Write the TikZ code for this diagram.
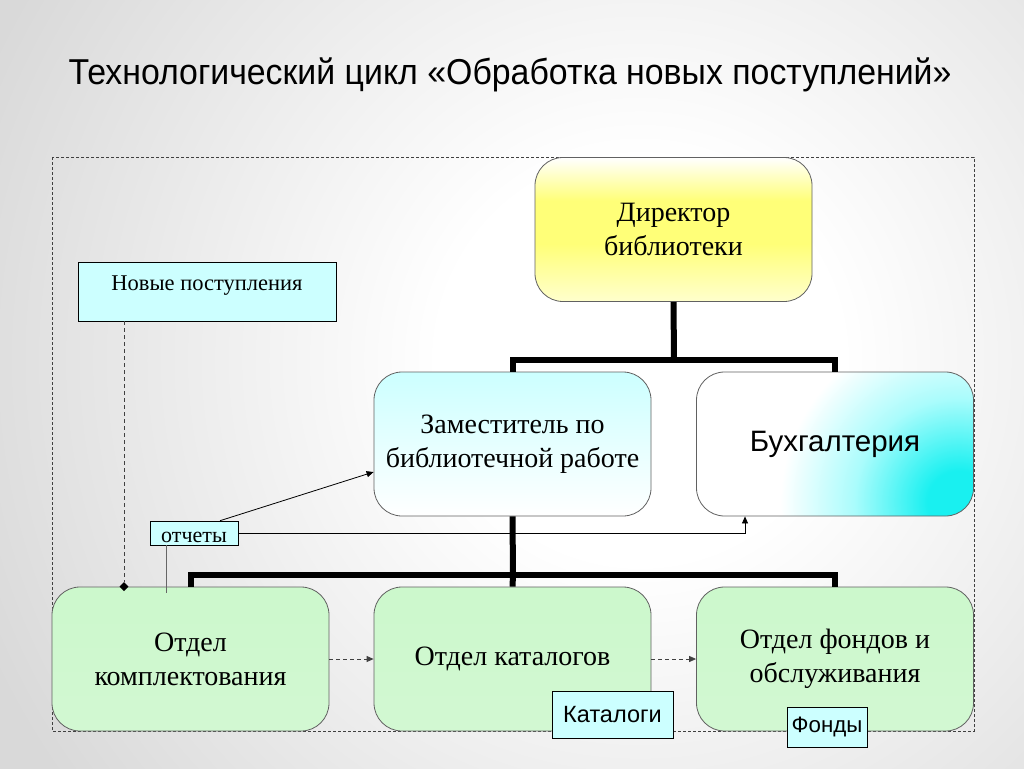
\documentclass[tikz,border=0pt]{standalone}
\usepackage{fontspec}
\setmainfont{Liberation Serif}
\newfontfamily\arialf{Liberation Sans}
\newfontfamily\arialn[FakeStretch=0.94]{Liberation Sans}
\usetikzlibrary{arrows.meta,shapes.geometric}
\definecolor{bggray}{gray}{0.85}
\definecolor{boxline}{gray}{0.38}
\definecolor{lcyan}{RGB}{204,255,255}
\definecolor{gtop}{RGB}{204,248,204}
\definecolor{gmid}{RGB}{244,255,244}
\definecolor{gbot}{RGB}{210,248,210}
\definecolor{ymid}{RGB}{255,255,120}
\definecolor{ybot}{RGB}{255,255,205}
\definecolor{cdeep}{RGB}{25,240,240}
\definecolor{cpale}{RGB}{170,252,252}
\pgfdeclareradialshading{bgshade}{\pgfpoint{0bp}{0bp}}{color(0bp)=(white); color(7bp)=(white); color(25bp)=(bggray); color(50bp)=(bggray)}
\pgfdeclareradialshading{buhrad}{\pgfpoint{0bp}{0bp}}{color(0bp)=(cdeep); color(3bp)=(cdeep); color(10bp)=(cpale); color(17bp)=(white); color(50bp)=(white)}
\pgfdeclareverticalshading{dirshade}{100bp}{color(0bp)=(ybot); color(25bp)=(ybot); color(45bp)=(ymid); color(60bp)=(ymid); color(75bp)=(white); color(100bp)=(white)}
\tikzset{
  orgbox/.style={draw=boxline, line width=0.8pt, rounded corners=28pt,
    minimum width=277pt, minimum height=144pt, align=center, inner sep=0pt,
    font=\fontsize{28}{34}\selectfont},
  greenbox/.style={orgbox, top color=gtop, middle color=gmid, bottom color=gbot},
  tagbox/.style={draw=black, line width=0.6pt, fill=lcyan, inner sep=0pt},
  tree/.style={line width=6pt, black},
  conn/.style={line width=0.8pt, black},
  tip/.style={-{Triangle[length=7pt,width=6pt]}},
  dashconn/.style={line width=0.8pt, black!75, dash pattern=on 4pt off 3pt},
  frame/.style={line width=0.8pt, black!75, dash pattern=on 3pt off 2pt}
}
\begin{document}
\begin{tikzpicture}[x=1pt,y=-1pt]
\useasboundingbox (0,0) rectangle (1024,768);
\begin{scope}
\clip (0,0) rectangle (1024,768);
\fill[shading=bgshade] (-80,-360) rectangle (1360,1080);
\end{scope}

\node[font=\arialn\fontsize{36}{40}\selectfont, anchor=base] (title) at (510,84) {Технологический цикл «Обработка новых поступлений»};

\draw[frame] (52,157) rectangle (974,731);

\node[orgbox, shading=dirshade] (dir) at (673.5,229.5) {Директор\\библиотеки};
\node[orgbox, top color=lcyan, bottom color=white] (zam) at (512.5,444) {Заместитель по\\библиотечной работе};
\node[orgbox, fill=white, path picture={\fill[shading=buhrad] ([xshift=-12pt,yshift=14pt]path picture bounding box.south east) circle[radius=260pt];}, font=\arialf\fontsize{29.5}{34}\selectfont] (buh) at (835,444) {Бухгалтерия};
\node[greenbox] (kompl) at (190.5,659) {Отдел\\комплектования};
\node[greenbox] (kat) at (512.5,659) {Отдел каталогов};
\node[greenbox] (fond) at (835,659) {Отдел фондов и\\обслуживания};

\coordinate (j1) at (674,360);
\coordinate (j2) at (513,575);
\draw[tree] (dir.south) -- (j1);
\draw[tree] (zam.north) |- (j1) -| (buh.north);
\draw[tree] (zam.south) -- (j2);
\draw[tree] (kompl.north) |- (j2) -| (fond.north);
\draw[tree] (j2) -- (kat.north);

\node[tagbox, minimum width=258pt, minimum height=59pt, text height=20.5pt, text depth=23.5pt, inner sep=7.5pt, font=\fontsize{22.5}{26}\selectfont] (nov) at (207,291.5) {Новые поступления};

\node[diamond, fill=black, inner sep=0pt, minimum size=9pt] (dm) at ([xshift=-66.5pt]kompl.north) {};
\draw[dashconn] ([xshift=-83pt]nov.south) -- (dm.north);

\node[tagbox, minimum width=88pt, minimum height=24pt, text height=18pt, text depth=0pt, font=\fontsize{22}{24}\selectfont] (otch) at (194,533) {отчеты};
\draw[conn, tip] ([xshift=26pt]otch.north) -- ([yshift=-28pt]zam.west);
\draw[conn, tip] (otch.east) -| ([xshift=-90pt]buh.south);
\coordinate (g1) at ([xshift=-24.5pt,yshift=-6pt]kompl.north);
\draw[line width=0.8pt, black!60] ([xshift=-28pt]otch.south) -- (g1);

\draw[dashconn, tip] (kompl.east) -- (kat.west);
\draw[dashconn, tip] (kat.east) -- (fond.west);

\node[tagbox, minimum width=121pt, minimum height=47pt, font=\arialf\fontsize{23.5}{26}\selectfont] (katl) at (612.5,714.5) {Каталоги};
\node[tagbox, minimum width=80pt, minimum height=40pt, font=\arialf\fontsize{22.3}{24}\selectfont] (fondy) at (827,727) {Фонды};
\end{tikzpicture}
\end{document}
